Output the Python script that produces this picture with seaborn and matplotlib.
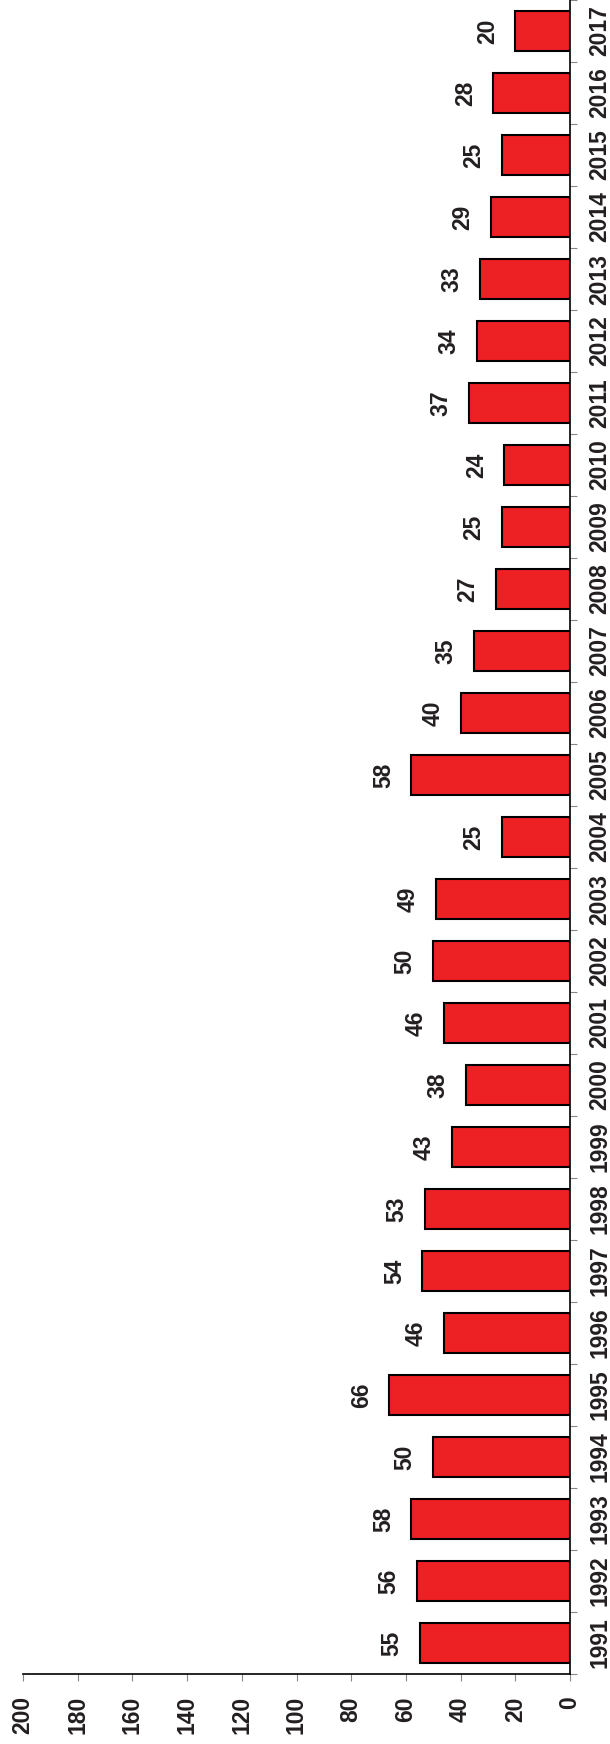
import matplotlib
matplotlib.use("Agg")
import matplotlib.pyplot as plt
import seaborn as sns
import pandas as pd
from matplotlib.ticker import FixedLocator

years = [str(y) for y in range(1991, 2018)]
counts = [55, 56, 58, 50, 66, 46, 54, 53, 43, 38, 46, 50, 49, 25, 58,
          40, 35, 27, 25, 24, 37, 34, 33, 29, 25, 28, 20]
value_ticks = [0, 20, 40, 60, 80, 100, 120, 140, 160, 180, 200]

df = pd.DataFrame({"year": years, "count": counts})
order = years[::-1]  # 2017 at top, 1991 at bottom

sns.set_style("white")
plt.rcParams['font.family'] = ['Liberation Sans', 'DejaVu Sans']
plt.rcParams['font.weight'] = 'bold'

W, H = 610, 1744
fig = plt.figure(figsize=(W / 100, H / 100), dpi=100)
ax = fig.add_axes([23 / W, 1 - 1674 / H, (570 - 23) / W, 1674 / H])

sns.barplot(data=df, x="count", y="year", order=order, orient="h",
            color="#ED2024", saturation=1, width=0.66,
            edgecolor="black", linewidth=1.5, ax=ax)

ax.set_xlim(200, 0)
ax.set_ylim(len(order) - 0.5, -0.5)

# value labels left of each bar
for i, yr in enumerate(order):
    v = counts[years.index(yr)]
    ax.text(v + 6, i, str(v), rotation=90, ha="right", va="center",
            fontsize=16.5, fontweight="bold", color="#231F20")

ax.yaxis.tick_right()
for s in ["top", "left"]:
    ax.spines[s].set_visible(False)
for s in ["right", "bottom"]:
    ax.spines[s].set_color("black")
    ax.spines[s].set_linewidth(1.2)

ax.set_xticks(value_ticks)
ax.set_xticklabels([str(t) for t in value_ticks], rotation=90,
                   fontsize=16.5, fontweight="bold", color="#231F20")
ax.tick_params(axis="x", length=5, width=0.8, color="#888888", pad=11, bottom=True)

ax.set_yticks(range(len(order)))
ax.set_yticklabels(order, rotation=90, va="center",
                   fontsize=16.5, fontweight="bold", color="#231F20")
ax.tick_params(axis="y", which="major", length=0, pad=13, right=True, left=False)
ax.yaxis.set_minor_locator(FixedLocator([i + 0.5 for i in range(-1, len(order))]))
ax.tick_params(axis="y", which="minor", length=5, width=0.8, color="#888888",
               right=True, left=False)

ax.set_xlabel("")
ax.set_ylabel("")
ax.grid(False)

fig.savefig("out.png", dpi=100)
